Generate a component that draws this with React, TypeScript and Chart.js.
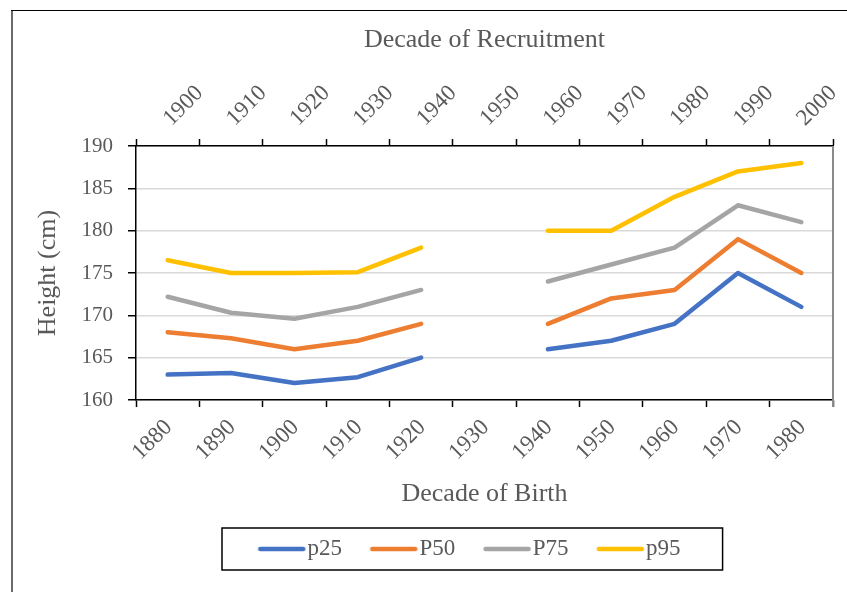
import React, { useEffect, useRef } from 'react';
import { Chart, registerables } from 'chart.js';

Chart.register(...registerables);

// ---- data ----
const birthDecades = ['1880', '1890', '1900', '1910', '1920', '1930', '1940', '1950', '1960', '1970', '1980'];
const recruitDecades = ['1900', '1910', '1920', '1930', '1940', '1950', '1960', '1970', '1980', '1990', '2000'];
const p25 = [163, 163.2, 162, 162.7, 165, null, 166, 167, 169, 175, 171];
const p50 = [168, 167.3, 166, 167, 169, null, 169, 172, 173, 179, 175];
const p75 = [172.2, 170.3, 169.6, 171, 173, null, 174, 176, 178, 183, 181];
const p95 = [176.5, 175, 175, 175.1, 178, null, 180, 180, 184, 187, 188];
const seriesNames = ['p25', 'P50', 'P75', 'p95'];
const seriesColors = ['#4472C4', '#ED7D31', '#A5A5A5', '#FFC000'];
const yMin = 160;
const yMax = 190;
const yStep = 5;
const xTitleBottom = 'Decade of Birth';
const xTitleTop = 'Decade of Recruitment';
const yTitle = 'Height (cm)';

const FONT = "'Liberation Serif', 'Times New Roman', serif";
const TEXT = '#595959';

const LEG_BOX = 38;
const LEG_EXT = 9.5;

function makeLegendLine(color: string) {
  const c = document.createElement('canvas');
  const margin = 3;
  c.width = LEG_BOX + 2 * (LEG_EXT + margin);
  c.height = 8;
  const ctx = c.getContext('2d')!;
  ctx.strokeStyle = color;
  ctx.lineWidth = 4.5;
  ctx.lineCap = 'round';
  const cx = c.width / 2;
  ctx.beginPath();
  ctx.moveTo(cx - LEG_BOX / 2 + 2.25, 4);
  ctx.lineTo(cx + LEG_BOX / 2 + LEG_EXT - 2.25, 4);
  ctx.stroke();
  return c;
}

export default function App() {
  const ref = useRef<HTMLCanvasElement | null>(null);

  useEffect(() => {
    if (!ref.current) return;
    const legendLines = seriesColors.map(makeLegendLine);
    const series = [p25, p50, p75, p95];

    const decor = {
      id: 'decor',
      afterUpdate(chart: any) {
        const lg = chart.legend;
        if (!lg || !lg.legendHitBoxes || !lg.legendHitBoxes.length) return;
        const dx = 258 - lg.legendHitBoxes[0].left;
        lg.left += dx;
        lg.right += dx;
        lg.legendHitBoxes.forEach((h: any) => (h.left += dx));
      },
      afterDraw(chart: any) {
        const ctx = chart.ctx;
        const ca = chart.chartArea;
        ctx.save();
        // outer frame
        ctx.strokeStyle = '#6b6b6b';
        ctx.lineWidth = 2;
        ctx.beginPath();
        ctx.moveTo(12, 10);
        ctx.lineTo(12, chart.height);
        ctx.stroke();
        ctx.strokeStyle = '#000';
        ctx.lineWidth = 1;
        ctx.beginPath();
        ctx.moveTo(11, 10.5);
        ctx.lineTo(chart.width, 10.5);
        ctx.stroke();
        // right plot border
        ctx.strokeStyle = '#8a8a8a';
        ctx.lineWidth = 2;
        ctx.beginPath();
        ctx.moveTo(ca.right, ca.top);
        ctx.lineTo(ca.right, ca.bottom + 7);
        ctx.stroke();
        // legend frame
        const lg = chart.legend;
        if (lg && lg.legendHitBoxes && lg.legendHitBoxes.length) {
          const hb = lg.legendHitBoxes;
          const f = hb[0];
          const l = hb[hb.length - 1];
          const cy = f.top + f.height / 2;
          const x0 = f.left - 36;
          const x1 = l.left + l.width + 42;
          ctx.strokeStyle = '#000';
          ctx.lineWidth = 1.5;
          ctx.strokeRect(x0, cy - 21, x1 - x0, 42);
        }
        ctx.restore();
      },
    };

    const tickFont = { family: FONT, size: 23 };
    const titleFont = { family: FONT, size: 26 };

    const chart = new Chart(ref.current, {
      type: 'line',
      data: {
        labels: birthDecades,
        datasets: series.map((d, i) => ({
          label: seriesNames[i],
          data: d,
          borderColor: seriesColors[i],
          backgroundColor: seriesColors[i],
          borderWidth: 4.5,
          borderCapStyle: 'round',
          borderJoinStyle: 'round',
          pointRadius: 0,
          pointHoverRadius: 0,
          tension: 0,
          spanGaps: false,
          fill: false,
          xAxisID: 'x',
          yAxisID: 'y',
        })),
      },
      options: {
        animation: false,
        responsive: true,
        maintainAspectRatio: false,
        events: [],
        layout: { padding: { left: 33, right: 14, top: 25, bottom: 21.5 } },
        plugins: {
          tooltip: { enabled: false },
          legend: {
            display: true,
            position: 'bottom',
            labels: {
              usePointStyle: true,
              pointStyleWidth: LEG_BOX,
              padding: 28,
              color: TEXT,
              font: { family: FONT, size: 23 },
              generateLabels: (ch: any) => {
                const base = (Chart.defaults.plugins.legend.labels as any).generateLabels(ch);
                return base.map((it: any) => ({ ...it, pointStyle: legendLines[it.datasetIndex] }));
              },
            },
          },
        },
        scales: {
          x: {
            type: 'category',
            position: 'bottom',
            offset: true,
            grid: {
              offset: true,
              drawOnChartArea: false,
              drawTicks: true,
              tickLength: 7,
              tickColor: '#000',
              tickWidth: 1.5,
            },
            border: { color: '#000', width: 1.5 },
            ticks: {
              autoSkip: false,
              maxRotation: 45,
              minRotation: 45,
              padding: 7,
              labelOffset: 1,
              color: TEXT,
              font: tickFont,
            },
            title: {
              display: true,
              text: xTitleBottom,
              color: TEXT,
              font: titleFont,
              padding: { top: 0, bottom: 0 },
            },
            afterFit: (s: any) => {
              s.height = 109.5;
              s.paddingLeft = 0;
              s.paddingRight = 0;
            },
          },
          x2: {
            type: 'category',
            position: 'top',
            labels: recruitDecades,
            offset: true,
            grid: {
              offset: true,
              drawOnChartArea: false,
              drawTicks: true,
              tickLength: 7,
              tickColor: '#000',
              tickWidth: 1.5,
            },
            border: { color: '#000', width: 1.5 },
            ticks: {
              autoSkip: false,
              maxRotation: 45,
              minRotation: 45,
              padding: 7,
              labelOffset: 19,
              color: TEXT,
              font: tickFont,
            },
            title: {
              display: true,
              text: xTitleTop,
              color: TEXT,
              font: titleFont,
              padding: { top: 0, bottom: 0 },
            },
            afterFit: (s: any) => {
              s.height = 121;
              s.paddingLeft = 0;
              s.paddingRight = 0;
            },
          },
          y: {
            type: 'linear',
            position: 'left',
            min: yMin,
            max: yMax,
            ticks: {
              stepSize: yStep,
              padding: 15,
              color: TEXT,
              font: { family: FONT, size: 21 },
            },
            grid: {
              color: '#d9d9d9',
              lineWidth: 1.5,
              drawTicks: true,
              tickLength: 8,
              tickColor: '#000',
              tickWidth: 1.5,
            },
            border: { color: '#000', width: 1.5 },
            title: {
              display: true,
              text: yTitle,
              color: TEXT,
              font: titleFont,
              padding: { top: 0, bottom: 0 },
            },
            afterFit: (s: any) => {
              s.width = 103;
            },
          },
        },
      },
      plugins: [decor],
    } as any);

    return () => chart.destroy();
  }, []);

  return (
    <div style={{ position: 'fixed', left: 0, top: 0, width: 847, height: 592, background: '#fff' }}>
      <canvas ref={ref} style={{ display: 'block' }} />
    </div>
  );
}
